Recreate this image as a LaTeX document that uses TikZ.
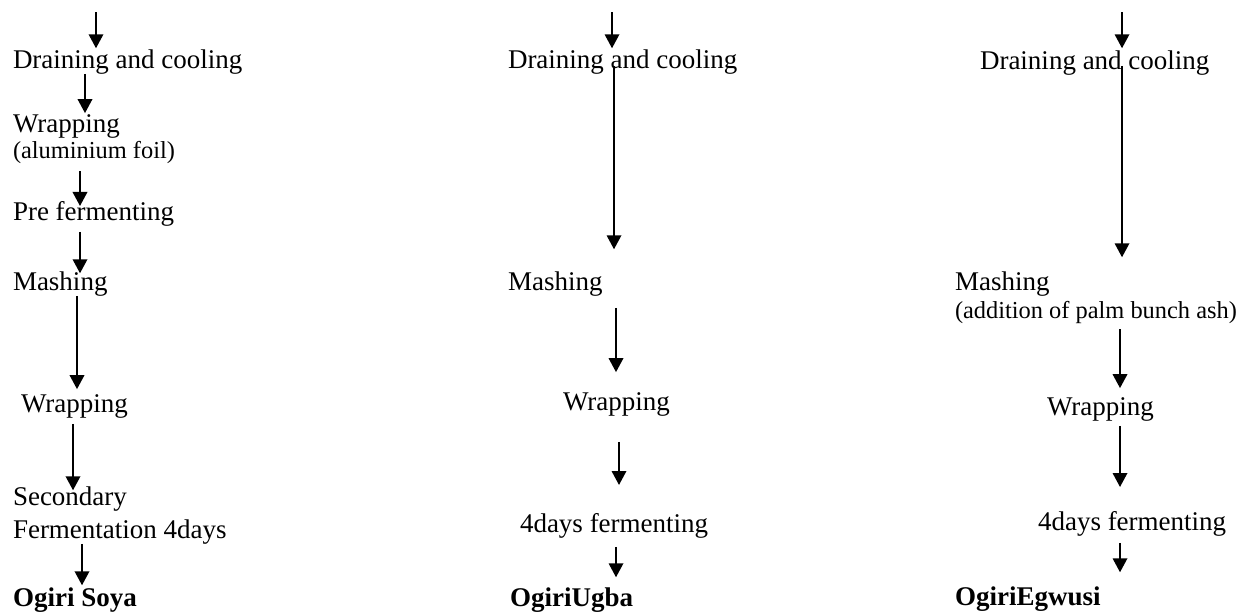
\documentclass[tikz,border=0pt]{standalone}
\usepackage{fontspec}
\setmainfont{Liberation Serif}
\usetikzlibrary{arrows.meta}

\tikzset{
  label/.style={anchor=base west, inner sep=0pt, outer sep=0pt,
                font=\fontsize{27}{32}\selectfont},
  note/.style={label, font=\fontsize{24.4}{29}\selectfont},
  product/.style={label, font=\fontsize{27}{32}\selectfont\bfseries},
  flow/.style={-{Triangle[length=14pt,width=14.5pt]}, line width=1.9pt, black},
}

\begin{document}
\begin{tikzpicture}[x=1pt, y=-1pt]
\useasboundingbox (0,0) rectangle (1246,611);

% ---- Ogiri Soya ----
\coordinate (t1) at (96,12);
\node[label]   (d1)  at (13,68)  {Draining and cooling};
\node[label]   (w1)  at (13,132) {Wrapping};
\node[note]    (w1n) at (13,158) {(aluminium foil)};
\node[label]   (p1)  at (13,220) {Pre fermenting};
\node[label]   (m1)  at (13,290) {Mashing};
\node[label]   (w1b) at (21,412) {Wrapping};
\node[label]   (s1a) at (13,505) {Secondary};
\node[label]   (s1b) at (13,538) {Fermentation 4days};
\node[product] (o1)  at (13,606) {Ogiri Soya};

\draw[flow] (t1) -- ([yshift=1pt]96,0 |- d1.north);
\draw[flow] (85,0 |- d1.south) -- ([yshift=1pt]85,0 |- w1.north);
\draw[flow] ([yshift=-8pt]80,0 |- w1n.south) -- ([yshift=-5pt]80,0 |- p1.north);
\draw[flow] ([yshift=-6pt]80,0 |- p1.south) -- ([yshift=-2pt]80,0 |- m1.north);
\draw[flow] (77,0 |- m1.south) -- ([yshift=5pt]77,0 |- w1b.north);
\draw[flow] ([yshift=-6pt]73,0 |- w1b.south) -- ([yshift=-4pt]73,0 |- s1a.north);
\draw[flow] (82,0 |- s1b.south) -- ([yshift=2pt]82,0 |- o1.north);

% ---- Ogiri Ugba ----
\coordinate (t2) at (612,12);
\node[label]   (d2) at (508,68)  {Draining and cooling};
\node[label]   (m2) at (508,290) {Mashing};
\node[label]   (w2) at (563,410) {Wrapping};
\node[label]   (f2) at (520,532) {4days fermenting};
\node[product] (o2) at (510,606) {OgiriUgba};

\draw[flow] (t2) -- ([yshift=1pt]612,0 |- d2.north);
\draw[flow] ([yshift=8pt]614,0 |- d2.south) -- ([yshift=22pt]614,0 |- m2.north);
\draw[flow] ([yshift=-12pt]616,0 |- m2.south) -- ([yshift=20pt]616,0 |- w2.north);
\draw[flow] ([yshift=-26pt]619,0 |- w2.south) -- ([yshift=28pt]619,0 |- f2.north);
\draw[flow] ([yshift=-9pt]616,0 |- f2.south) -- ([yshift=10pt]616,0 |- o2.north);

% ---- Ogiri Egwusi ----
\coordinate (t3) at (1122,12);
\node[label]   (d3)  at (980,69)   {Draining and cooling};
\node[label]   (m3)  at (955,290)  {Mashing};
\node[note]    (m3n) at (955,318)  {(addition of palm bunch ash)};
\node[label]   (w3)  at (1047,415) {Wrapping};
\node[label]   (f3)  at (1038,530) {4days fermenting};
\node[product] (o3)  at (955,605)  {OgiriEgwusi};

\draw[flow] (t3) -- ([yshift=2pt]1122,0 |- d3.north);
\draw[flow] ([yshift=9pt]1122,0 |- d3.south) -- ([yshift=14pt]1122,0 |- m3.north);
\draw[flow] ([yshift=-6pt]1120,0 |- m3n.south) -- ([yshift=9pt]1120,0 |- w3.north);
\draw[flow] ([yshift=-5pt]1120,0 |- w3.south) -- ([yshift=24pt]1120,0 |- f3.north);
\draw[flow] ([yshift=-7pt]1120,0 |- f3.south) -- ([yshift=14pt]1120,0 |- o3.north);
\end{tikzpicture}
\end{document}
